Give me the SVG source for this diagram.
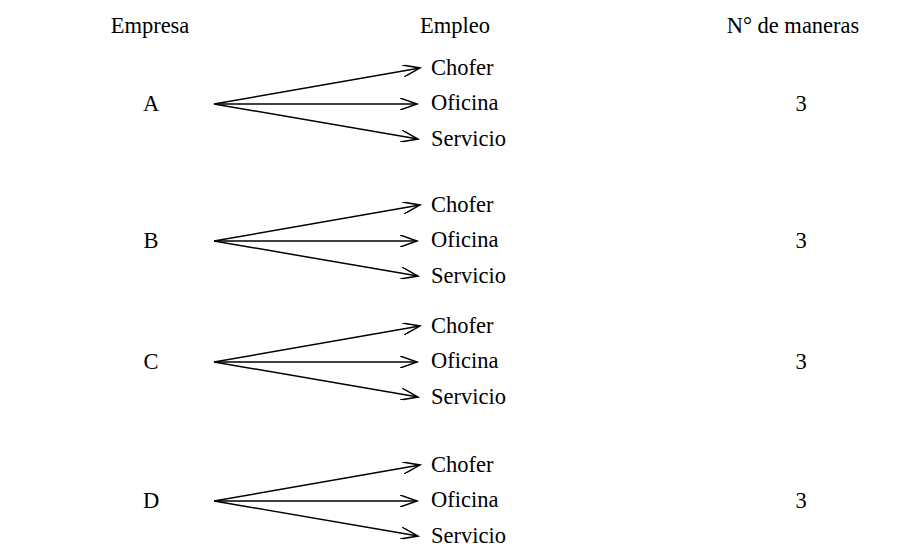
<svg xmlns="http://www.w3.org/2000/svg" width="922" height="550" viewBox="0 0 922 550">
<style>
text{font-family:"Liberation Serif","Times New Roman",serif;font-size:22.5px;fill:#000}
.c{text-anchor:middle}
line{stroke:#000;stroke-width:1.5;marker-end:url(#a)}
</style>
<defs><marker id="a" markerWidth="20" markerHeight="12" refX="17" refY="6" orient="auto" markerUnits="userSpaceOnUse"><path d="M0,0 L17,6 L0,12" fill="none" stroke="#000" stroke-width="1.5"/></marker></defs>
<rect width="922" height="550" fill="#fff"/>
<g id="headers"><text class="c" x="150" y="33">Empresa</text><text class="c" x="455" y="33">Empleo</text><text class="c" x="793" y="33">N° de maneras</text></g>
<g id="nodeA"><text class="c" x="151" y="111">A</text><text x="431" y="75">Chofer</text><text x="431" y="110">Oficina</text><text x="431" y="146">Servicio</text><text class="c" x="801" y="111">3</text></g>
<g id="nodeB"><text class="c" x="151" y="248">B</text><text x="431" y="212">Chofer</text><text x="431" y="247">Oficina</text><text x="431" y="283">Servicio</text><text class="c" x="801" y="248">3</text></g>
<g id="nodeC"><text class="c" x="151" y="369">C</text><text x="431" y="333">Chofer</text><text x="431" y="368">Oficina</text><text x="431" y="404">Servicio</text><text class="c" x="801" y="369">3</text></g>
<g id="nodeD"><text class="c" x="151" y="508">D</text><text x="431" y="472">Chofer</text><text x="431" y="507">Oficina</text><text x="431" y="543">Servicio</text><text class="c" x="801" y="508">3</text></g>
<g id="connectors">
<line x1="214" y1="104" x2="420" y2="68"/><line x1="214" y1="104" x2="417" y2="104"/><line x1="214" y1="104" x2="418" y2="139"/>
<line x1="214" y1="241" x2="420" y2="205"/><line x1="214" y1="241" x2="417" y2="241"/><line x1="214" y1="241" x2="418" y2="276"/>
<line x1="214" y1="362" x2="420" y2="326"/><line x1="214" y1="362" x2="417" y2="362"/><line x1="214" y1="362" x2="418" y2="397"/>
<line x1="214" y1="501" x2="420" y2="465"/><line x1="214" y1="501" x2="417" y2="501"/><line x1="214" y1="501" x2="418" y2="536"/>
</g>
</svg>
